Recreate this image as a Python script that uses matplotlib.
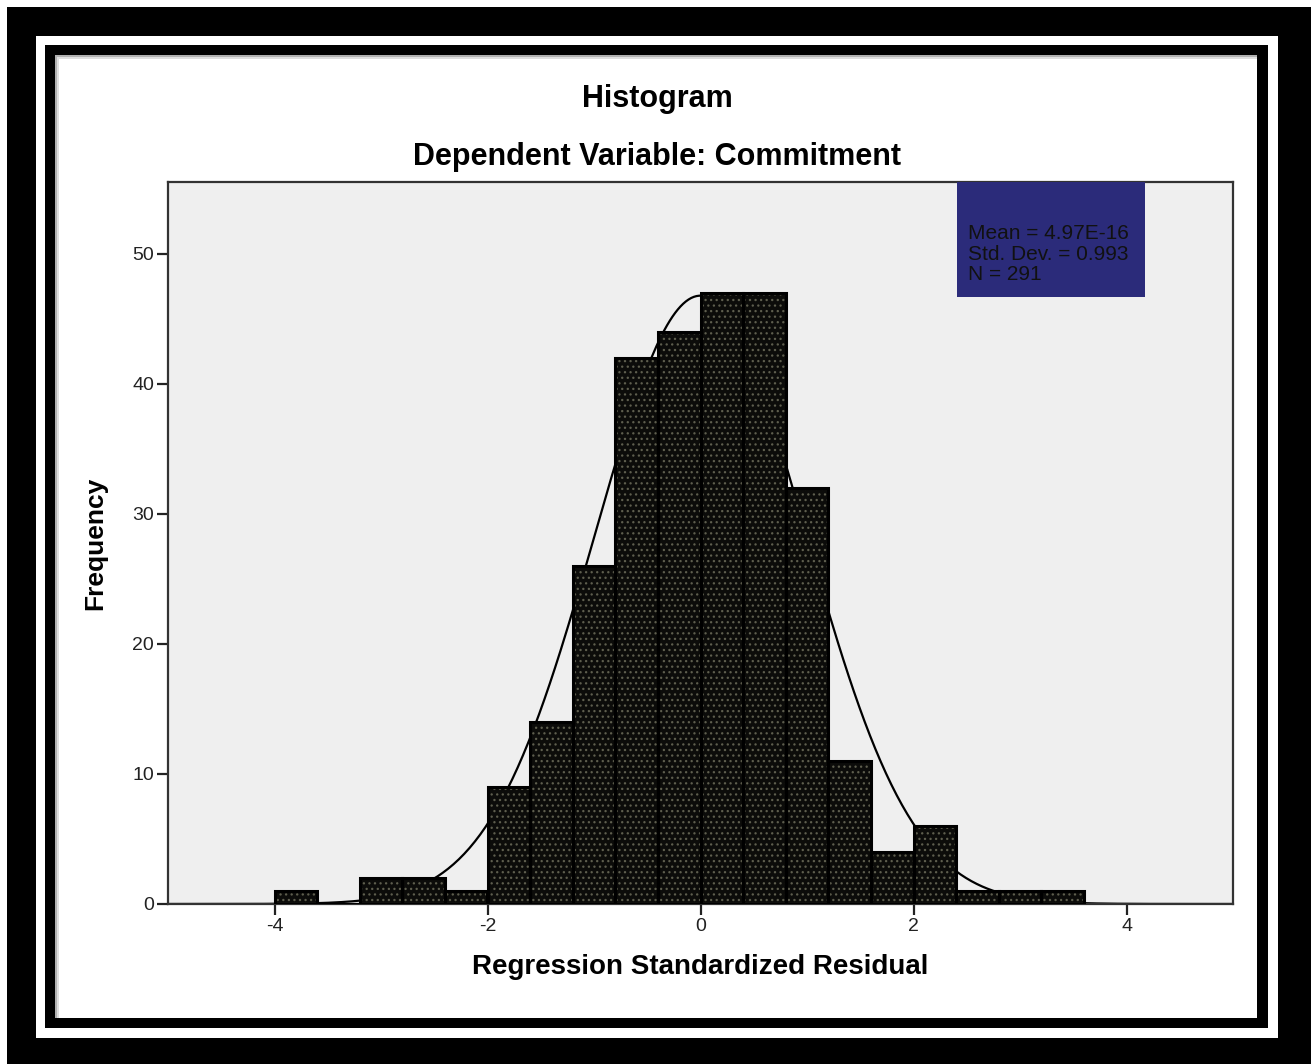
import numpy as np
import matplotlib.pyplot as plt
from matplotlib.patches import Rectangle

# histogram data (bin width 0.4)
bin_left = [-4.0, -3.6, -3.2, -2.8, -2.4, -2.0, -1.6, -1.2, -0.8, -0.4,
            0.0, 0.4, 0.8, 1.2, 1.6, 2.0, 2.4, 2.8, 3.2]
counts = [1, 0, 2, 2, 1, 9, 14, 26, 42, 44, 47, 47, 32, 11, 4, 6, 1, 1, 1]
bin_width = 0.4
mean_val = 4.97e-16
std_val = 0.993
n_obs = 291

W, H = 1311, 1064
fig = plt.figure(figsize=(W / 100, H / 100), dpi=100)
fig.patch.set_facecolor('white')


def frame(x0, y0, x1, y1, color, z):
    # pixel box, y measured from top
    r = Rectangle((x0 / W, 1 - y1 / H), (x1 - x0) / W, (y1 - y0) / H,
                  transform=fig.transFigure, facecolor=color, edgecolor='none', zorder=z)
    fig.patches.append(r)


frame(7, 7, 1311, 1064, 'black', 0)
frame(36, 36, 1278, 1038, 'white', 1)
frame(45, 45, 1268, 1028, 'black', 2)
frame(55, 55, 1257, 1018, '#b0b0b0', 3)
frame(57, 57, 1257, 1018, '#dedede', 4)
frame(59, 59, 1257, 1018, 'white', 5)

ax = fig.add_axes([168 / W, 1 - 904 / H, (1233 - 168) / W, (904 - 182) / H])
ax.set_zorder(10)
ax.set_facecolor('#efefef')

# normal curve sits behind the bars
xs = np.linspace(-5, 5, 400)
ys = n_obs * bin_width * np.exp(-0.5 * ((xs - mean_val) / std_val) ** 2) / (std_val * np.sqrt(2 * np.pi))
ax.plot(xs, ys, color='black', linewidth=1.6, zorder=1.5)

plt.rcParams['hatch.linewidth'] = 0.9
ax.bar(bin_left, counts, width=bin_width, align='edge', color='#0c0c0a',
       edgecolor='#5e5e4e', hatch='...', linewidth=0, zorder=2)
ax.bar(bin_left, counts, width=bin_width, align='edge', color='none',
       edgecolor='black', linewidth=2.2, zorder=3)

ax.set_xlim(-5, 5)
ax.set_ylim(0, 55.5)
ax.set_xticks([-4, -2, 0, 2, 4])
ax.set_xticklabels(['-4', '-2', '0', '2', '4'])
ax.set_yticks([0, 10, 20, 30, 40, 50])
ax.tick_params(axis='both', direction='out', length=8, width=1.6, labelsize=14,
               colors='#222222', pad=2)
for s in ax.spines.values():
    s.set_linewidth(1.6)
    s.set_color('#333333')

ax.set_xlabel('Regression Standardized Residual', fontsize=20, fontweight='bold',
              family='Liberation Sans', labelpad=14)
ax.set_ylabel('Frequency', fontsize=19, fontweight='bold', family='Liberation Sans', labelpad=18)
for lab in ax.get_xticklabels() + ax.get_yticklabels():
    lab.set_family('Liberation Sans')

fig.text(657 / W, 1 - 99 / H, 'Histogram', ha='center', va='center', fontsize=22,
         fontweight='bold', family='Liberation Sans', zorder=20)
fig.text(657 / W, 1 - 157 / H, 'Dependent Variable: Commitment', ha='center', va='center',
         fontsize=22, fontweight='bold', family='Liberation Sans', zorder=20)

# stats box
box = Rectangle((957 / W, 1 - 297 / H), (1145 - 957) / W, (297 - 182) / H,
                transform=fig.transFigure, facecolor='#2b2b7a', edgecolor='none', zorder=15)
fig.patches.append(box)
stats = ['Mean = 4.97E-16', f'Std. Dev. = {std_val}', f'N = {n_obs}']
fig.text(968 / W, 1 - 254 / H, '\n'.join(stats), ha='left', va='center', fontsize=15,
         family='Liberation Sans', color='#111111', linespacing=1.12, zorder=20)

fig.savefig('out.png', dpi=100)
